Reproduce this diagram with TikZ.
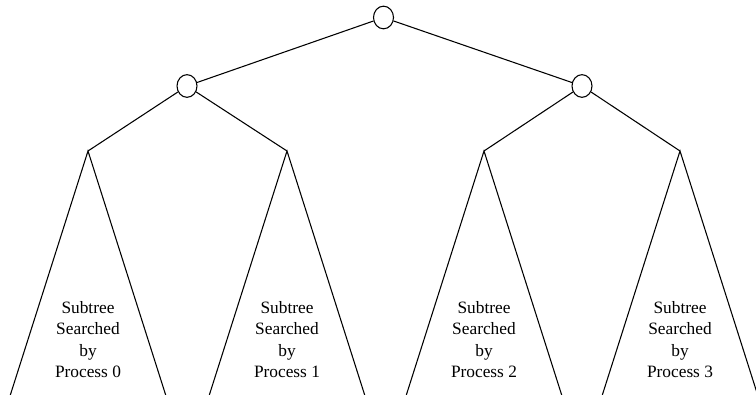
\documentclass[tikz,border=0pt]{standalone}
\usepackage{fontspec}
\setmainfont{Liberation Serif}
\usetikzlibrary{shapes,calc}

\begin{document}
\begin{tikzpicture}[x=0.75pt,y=-0.75pt,line width=0.8pt,
    vertex/.style={draw, ellipse, minimum width=15pt, minimum height=17pt, inner sep=0pt, fill=white},
    subtree/.style={align=center, font=\fontsize{13}{16}\selectfont, inner sep=0pt}
    ]
      \useasboundingbox (0,0) rectangle (756,395);
      \node[vertex] (root) at (383.5,17.5) {};
      \node[vertex] (left) at (187,86) {};
      \node[vertex] (right) at (582,86) {};
      \coordinate (apex0) at (88,151);
      \coordinate (apex1) at (287,151);
      \coordinate (apex2) at (484,151);
      \coordinate (apex3) at (680,151);

      \draw (root) -- (left);
      \draw (root) -- (right);
      \draw (left) -- (apex0);
      \draw (left) -- (apex1);
      \draw (right) -- (apex2);
      \draw (right) -- (apex3);

      % triangles for the subtrees
      \foreach \i in {0,...,3}{
	  \draw ($(apex\i)+(-78,245)$) -- (apex\i) -- ($(apex\i)+(78,245)$);
	  \node[subtree] (text\i) at ($(apex\i)+(0,188.5)$) {Subtree\\Searched\\by\\Process \i};
      }
    \end{tikzpicture}
\end{document}
